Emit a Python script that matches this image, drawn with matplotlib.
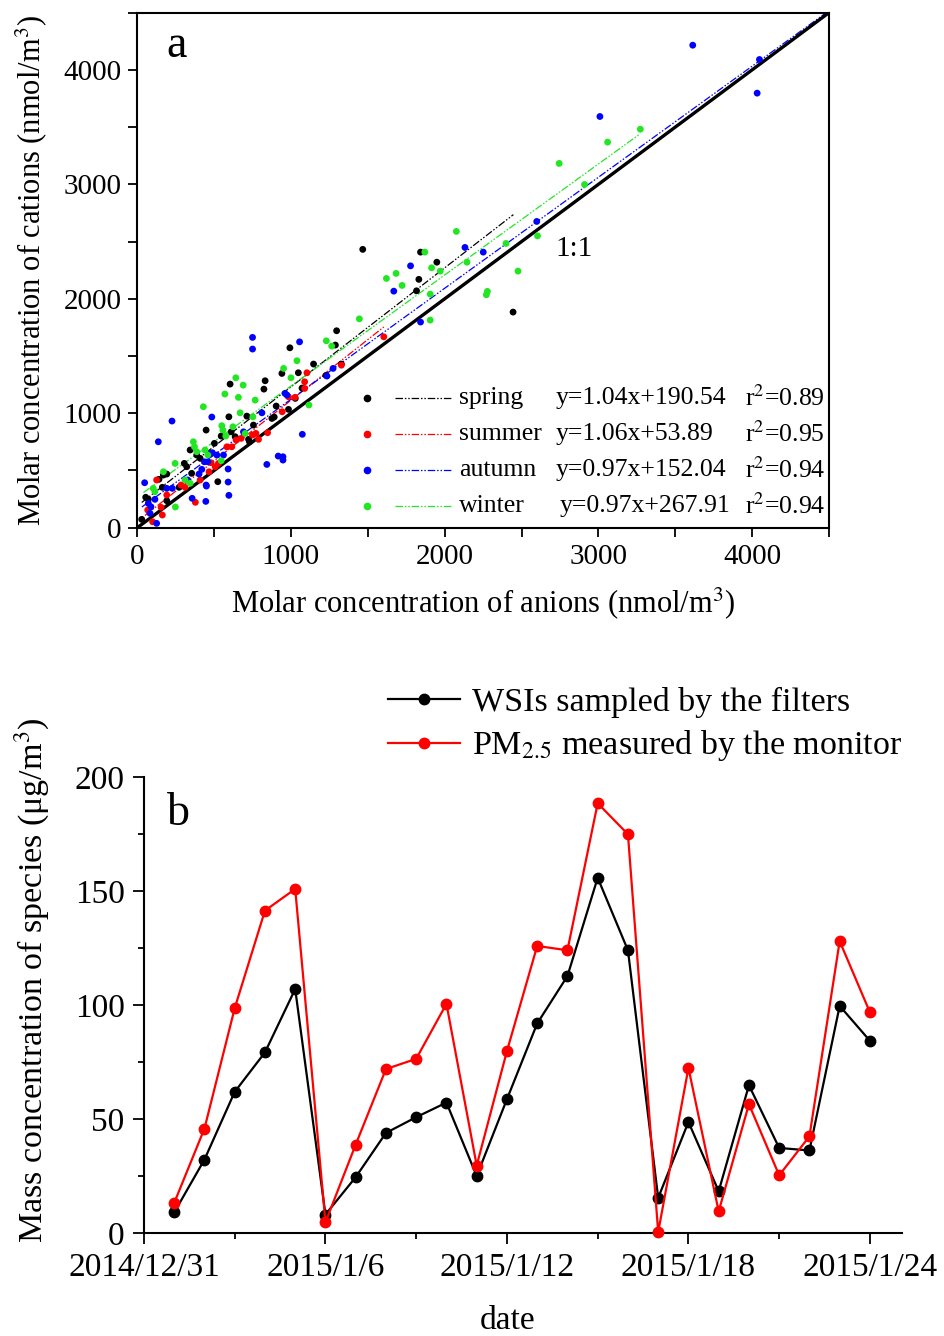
import matplotlib
matplotlib.use("Agg")
import matplotlib.pyplot as plt
import matplotlib.dates as mdates
from matplotlib.ticker import MultipleLocator
import pandas as pd
import numpy as np

plt.rcParams['font.family'] = ['Liberation Serif', 'DejaVu Serif']
plt.rcParams['mathtext.fontset'] = 'stix'

# ---- panel a : cations vs anions (nmol/m3) ----
seasons = ['spring', 'summer', 'autumn', 'winter']
season_colors = ['#000000', '#ff0000', '#0000ff', '#22e622']

spring_x = [1467, 1843, 1949, 1832, 1817, 2445, 1297, 1289, 993, 1147, 1048, 941, 1072, 1328, 1228,
            904, 984, 832, 824, 891, 1028, 604, 596, 713, 448, 876, 756, 524, 29, 611, 637, 546,
            730, 724, 502, 344, 387, 409, 306, 322, 170, 192, 141, 163, 272, 354, 72, 55, 192]
spring_y = [2432, 2408, 2320, 2170, 2070, 1884, 1721, 1596, 1572, 1430, 1354, 1348, 1220, 1430, 1331,
            1063, 1034, 1284, 1211, 967, 1130, 1255, 969, 975, 853, 955, 897, 402, 73, 838, 795, 801,
            751, 772, 737, 679, 635, 606, 562, 533, 460, 469, 423, 353, 353, 475, 248, 266, 236]

summer_x = [1104, 1089, 1026, 1604, 1328, 943, 984, 848, 1089, 378, 100, 126, 155, 68, 163,
            192, 285, 311, 409, 480, 528, 583, 615, 643, 676, 750, 772, 789, 467, 507]
summer_y = [1354, 1275, 1139, 1668, 1420, 1013, 1144, 830, 1217, 222, 52, 417, 178, 155, 111,
            286, 373, 353, 417, 568, 562, 707, 707, 766, 781, 810, 824, 772, 489, 533]

autumn_x = [3614, 4048, 4033, 3010, 2599, 2132, 2251, 1778, 1669, 1843, 750, 750, 1056, 1274, 961,
            974, 1074, 811, 843, 917, 948, 948, 485, 226, 137, 591, 591, 596, 450, 446, 357, 48,
            126, 691, 474, 489, 459, 437, 518, 561, 83, 72, 89, 115, 192, 228, 328, 402, 420, 448, 1234]
autumn_y = [4216, 4091, 3797, 3593, 2676, 2449, 2408, 2288, 2067, 1797, 1663, 1561, 1624, 1392, 1174,
            1159, 816, 1004, 553, 626, 620, 591, 967, 932, 751, 513, 399, 283, 364, 230, 257, 393,
            38, 838, 644, 655, 576, 576, 635, 635, 126, 213, 183, 248, 344, 344, 417, 469, 510, 373, 1325]

winter_x = [2076, 1871, 1915, 1971, 2145, 2399, 2477, 1684, 1621, 1723, 1906, 2278, 2271, 1906, 1445,
            3273, 3060, 2745, 2910, 2604, 1230, 1265, 1039, 952, 1000, 1117, 641, 689, 570, 658,
            430, 669, 550, 248, 365, 372, 557, 576, 622, 702, 387, 441, 459, 546, 246, 170, 104,
            115, 311, 344, 767, 752]
winter_y = [2589, 2408, 2271, 2242, 2320, 2484, 2242, 2222, 2178, 2117, 2041, 2065, 2035, 1814, 1825,
            3482, 3369, 3183, 2999, 2550, 1633, 1587, 1459, 1392, 1310, 1072, 1310, 1246, 1168, 1139,
            1057, 1004, 891, 181, 751, 707, 853, 801, 882, 824, 664, 679, 635, 585, 562, 489, 344,
            314, 417, 388, 1115, 969]

slopes = [1.04, 1.06, 0.97, 0.97]
intercepts = [190.54, 53.89, 152.04, 267.91]
r2_vals = ['0.89', '0.95', '0.94', '0.94']
fit_start = [29, 50, 30, 40]
fit_end = [2447, 1604, 4500, 3273]

# ---- panel b : daily mass concentration ----
dates = ['2015/1/%d' % d for d in range(1, 25)]
wsi = [9.0, 32.2, 61.9, 79.2, 107.0, 8.1, 24.5, 43.9, 50.8, 57.2, 25.0, 58.7,
       91.9, 112.7, 155.8, 124.0, 15.4, 48.7, 18.3, 64.8, 37.3, 36.2, 99.6, 84.3]
pm25 = [13.2, 45.8, 98.6, 141.4, 150.9, 4.7, 38.8, 71.9, 76.4, 100.5, 29.6, 79.8,
        125.9, 124.0, 188.5, 174.9, 0.4, 72.4, 9.5, 56.5, 25.3, 42.4, 128.0, 96.8]
major_dates = ['2014/12/31', '2015/1/6', '2015/1/12', '2015/1/18', '2015/1/24']
minor_dates = ['2015/1/3', '2015/1/9', '2015/1/15', '2015/1/21']

fig = plt.figure(figsize=(9.44, 13.36), dpi=100)

# ================= panel a =================
ax1 = fig.add_axes([0.1454, 0.605, 0.7327, 0.3855])
xs_all = [spring_x, summer_x, autumn_x, winter_x]
ys_all = [spring_y, summer_y, autumn_y, winter_y]
dashdotdot = (0, (6, 1.5, 1.2, 1.5, 1.2, 1.5))

for i in range(4):
    xx = np.array([fit_start[i], fit_end[i]])
    ax1.plot(xx, slopes[i] * xx + intercepts[i], color=season_colors[i], lw=0.9,
             linestyle=dashdotdot, zorder=2)
ax1.plot([0, 4500], [0, 4500], color='black', lw=2.4, zorder=3)
for i in range(4):
    ax1.scatter(xs_all[i], ys_all[i], s=24, color=season_colors[i], edgecolors='none', zorder=4)

ax1.set_xlim(0, 4500)
ax1.set_ylim(0, 4500)
ax1.xaxis.set_major_locator(MultipleLocator(1000))
ax1.yaxis.set_major_locator(MultipleLocator(1000))
ax1.xaxis.set_minor_locator(MultipleLocator(500))
ax1.yaxis.set_minor_locator(MultipleLocator(500))
ax1.tick_params(which='both', direction='out', length=6.5, width=1.3, labelsize=21, pad=5)
for sp in ax1.spines.values():
    sp.set_linewidth(1.5)
ax1.set_xlabel('Molar concentration of anions (nmol/m$^3$)', fontsize=22, labelpad=11)
ax1.set_ylabel('Molar concentration of cations (nmol/m$^3$)', fontsize=22, labelpad=10)
ax1.text(0.0425, 0.913, 'a', transform=ax1.transAxes, fontsize=33, va='baseline')
ax1.text(2723, 2373, '1:1', fontsize=21, va='baseline')

# manual legend block
row_y = [0.252, 0.182, 0.112, 0.042]
for i in range(4):
    ax1.plot([0.332], [row_y[i]], 'o', ms=4.5, color=season_colors[i], transform=ax1.transAxes)
    ax1.plot([0.373, 0.453], [row_y[i]] * 2, color=season_colors[i], lw=0.9,
             linestyle=dashdotdot, transform=ax1.transAxes)
    ax1.text(0.465, row_y[i], seasons[i], transform=ax1.transAxes, fontsize=18.5, va='center')
    eq = 'y=%.2fx+%.2f' % (slopes[i], intercepts[i])
    ax1.text(0.605 if i != 3 else 0.61, row_y[i], eq, transform=ax1.transAxes, fontsize=18.5, va='center')
    ax1.text(0.878, row_y[i], 'r$^2$=' + r2_vals[i], transform=ax1.transAxes, fontsize=18.5, va='center')

# ================= panel b =================
ax2 = fig.add_axes([0.1525, 0.0771, 0.803, 0.3413])
dx = mdates.date2num(pd.to_datetime(dates, format='%Y/%m/%d'))
l1, = ax2.plot(dx, wsi, '-o', color='black', lw=1.6, ms=7.5, zorder=3, clip_on=False,
               label='WSIs sampled by the filters')
l2, = ax2.plot(dx, pm25, '-o', color='#ff0000', lw=1.6, ms=7.5, zorder=4, clip_on=False,
               label='PM$_{2.5}$ measured by the monitor')

maj = mdates.date2num(pd.to_datetime(major_dates, format='%Y/%m/%d'))
mnr = mdates.date2num(pd.to_datetime(minor_dates, format='%Y/%m/%d'))
ax2.set_xlim(maj[0], maj[0] + 25.06)
ax2.set_ylim(0, 200)
ax2.set_xticks(maj)
ax2.set_xticklabels(major_dates)
ax2.set_xticks(mnr, minor=True)
ax2.yaxis.set_major_locator(MultipleLocator(50))
ax2.yaxis.set_minor_locator(MultipleLocator(25))
ax2.tick_params(which='major', direction='out', length=8, width=1.3, labelsize=24, pad=6)
ax2.tick_params(which='minor', direction='out', length=4.5, width=1.3)
ax2.spines['top'].set_visible(False)
ax2.spines['right'].set_visible(False)
ax2.spines['left'].set_linewidth(1.5)
ax2.spines['bottom'].set_linewidth(1.5)
ax2.set_xlabel('date', fontsize=24)
ax2.xaxis.set_label_coords(0.48, -0.16)
ax2.set_ylabel('Mass concentration of species (\u03bcg/m$^3$)', fontsize=24.5)
ax2.yaxis.set_label_coords(-0.122, 0.555)
ax2.text(0.030, 0.895, 'b', transform=ax2.transAxes, fontsize=33, va='baseline')
ax2.legend(handles=[l1, l2], loc='upper left', bbox_to_anchor=(0.322, 1.197), frameon=False,
           fontsize=24.5, handlelength=2.1, handletextpad=0.38, borderpad=0, borderaxespad=0,
           labelspacing=0.3)

fig.savefig('out.png', dpi=100)
